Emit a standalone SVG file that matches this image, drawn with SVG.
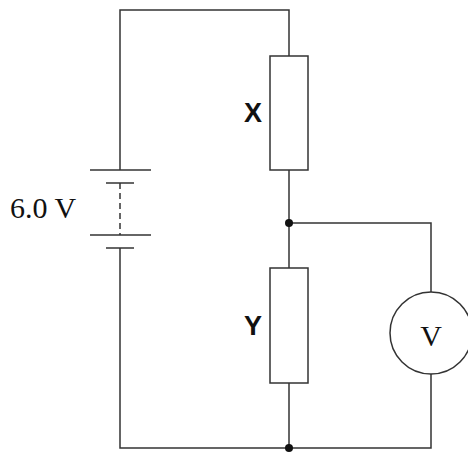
<svg xmlns="http://www.w3.org/2000/svg" width="468" height="452" viewBox="0 0 468 452">
<style>
.w{stroke:#333;stroke-width:1.5;fill:none}
.r{stroke:#333;stroke-width:1.5;fill:#fff}
.lbl{font-family:"Liberation Sans",Arial,sans-serif;font-weight:bold;font-size:27px;fill:#111}
.ser{font-family:"Liberation Serif","Times New Roman",serif;font-size:30px;fill:#111}
</style>
<rect width="468" height="452" fill="#fff"/>
<g id="connectors">
<polyline class="w" points="120,170 120,10 289,10 289,56"/>
<line class="w" x1="289" y1="170" x2="289" y2="268"/>
<line class="w" x1="289" y1="383" x2="289" y2="448"/>
<polyline class="w" points="120,248 120,448 431,448 431,374"/>
<polyline class="w" points="289,223 431,223 431,292"/>
<line class="w" x1="120" y1="183" x2="120" y2="235" stroke-dasharray="6,4"/>
</g>
<g id="battery">
<line class="w" x1="90" y1="170" x2="151" y2="170"/>
<line class="w" x1="106" y1="183" x2="134" y2="183"/>
<line class="w" x1="90" y1="235" x2="151" y2="235"/>
<line class="w" x1="106" y1="248" x2="134" y2="248"/>
<text class="ser" x="10" y="218">6.0 V</text>
</g>
<g id="resistorX">
<rect class="r" x="270" y="56" width="38" height="114"/>
<text class="lbl" x="253" y="122" text-anchor="middle">X</text>
</g>
<g id="resistorY">
<rect class="r" x="270" y="268" width="38" height="115"/>
<text class="lbl" x="253" y="335" text-anchor="middle">Y</text>
</g>
<g id="voltmeter">
<circle class="r" cx="431" cy="333" r="41"/>
<text class="ser" x="431" y="346" text-anchor="middle">V</text>
</g>
<g id="junctionTop"><circle cx="289" cy="223" r="4" fill="#111"/></g>
<g id="junctionBottom"><circle cx="289" cy="448" r="4" fill="#111"/></g>
</svg>
